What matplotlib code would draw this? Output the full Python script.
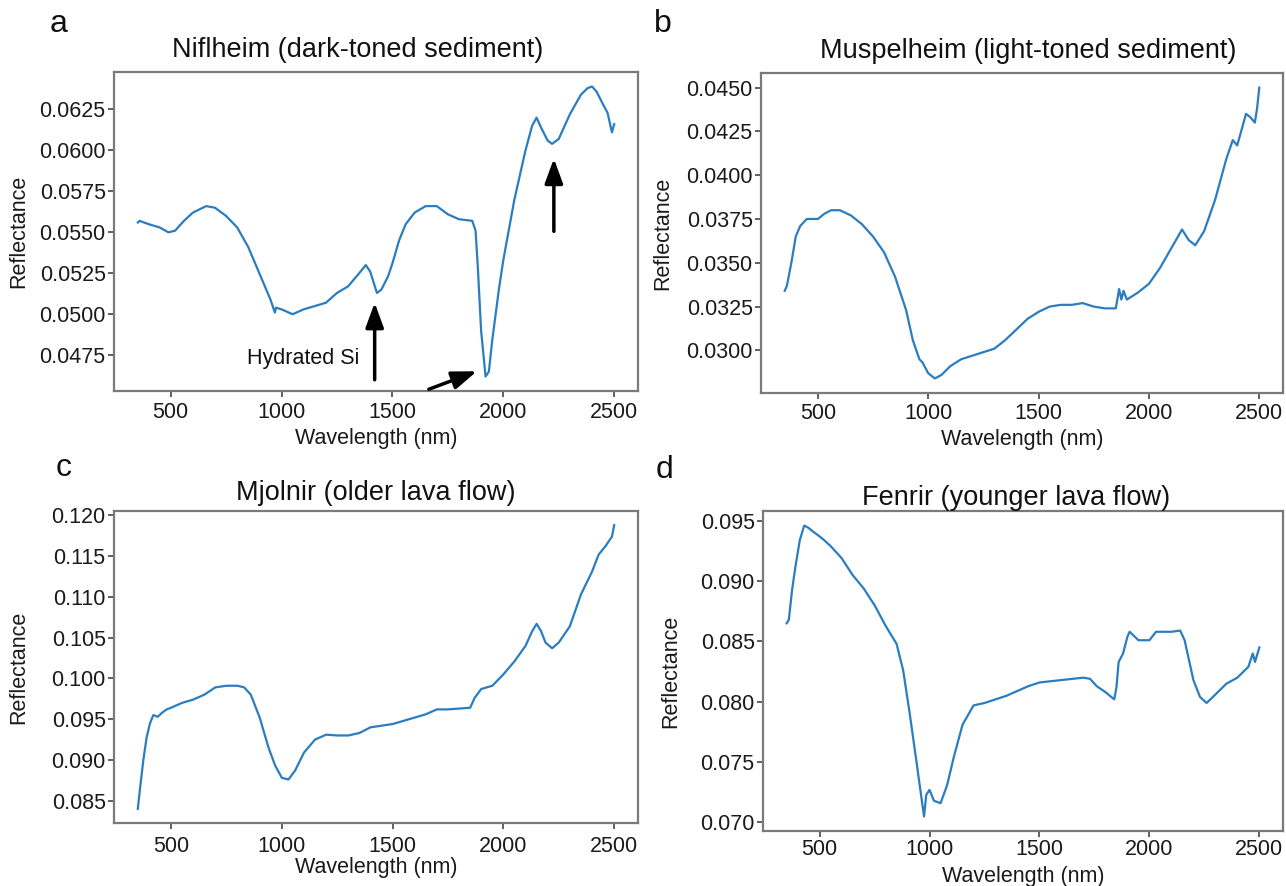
import matplotlib
matplotlib.use("Agg")
import matplotlib.pyplot as plt
from matplotlib.ticker import MultipleLocator, FormatStrFormatter

plt.rcParams['font.family'] = ['Liberation Sans', 'DejaVu Sans']

# --- spectra (wavelength nm, reflectance) ---
nif_wl = [352, 360, 400, 450, 490, 520, 560, 600, 660, 700, 750, 800, 850, 900, 950, 970, 975,
          1000, 1050, 1100, 1150, 1200, 1250, 1300, 1350, 1380, 1400, 1430, 1450, 1480, 1500,
          1530, 1560, 1600, 1650, 1700, 1750, 1800, 1860, 1875, 1885, 1900, 1920, 1935, 1950,
          1980, 2000, 2050, 2100, 2130, 2150, 2170, 2200, 2220, 2250, 2300, 2350, 2380, 2400,
          2420, 2450, 2470, 2490, 2500]
nif_r = [0.0556, 0.0557, 0.0555, 0.0553, 0.0550, 0.0551, 0.0557, 0.0562, 0.0566, 0.0565, 0.0560,
         0.0553, 0.0541, 0.0525, 0.0509, 0.0501, 0.0504, 0.0503, 0.0500, 0.0503, 0.0505, 0.0507,
         0.0513, 0.0517, 0.0525, 0.0530, 0.0526, 0.0513, 0.0515, 0.0523, 0.0531, 0.0545, 0.0555,
         0.0562, 0.0566, 0.0566, 0.0561, 0.0558, 0.0557, 0.0551, 0.0529, 0.0490, 0.0462, 0.0465,
         0.0484, 0.0515, 0.0533, 0.0570, 0.0600, 0.0615, 0.0620, 0.0614, 0.0606, 0.0604, 0.0607,
         0.0622, 0.0634, 0.0638, 0.0639, 0.0636, 0.0628, 0.0623, 0.0611, 0.0616]

mus_wl = [350, 360, 380, 400, 420, 450, 500, 530, 560, 600, 650, 700, 750, 800, 850, 900, 930,
          960, 975, 1000, 1030, 1060, 1100, 1150, 1200, 1250, 1300, 1350, 1400, 1450, 1500, 1550,
          1600, 1650, 1700, 1750, 1800, 1850, 1865, 1875, 1885, 1900, 1950, 2000, 2050, 2100,
          2150, 2180, 2210, 2250, 2300, 2350, 2380, 2400, 2420, 2440, 2460, 2480, 2490, 2500]
mus_r = [0.0334, 0.0337, 0.0350, 0.0365, 0.0371, 0.0375, 0.0375, 0.0378, 0.0380, 0.0380, 0.0377,
         0.0372, 0.0365, 0.0356, 0.0342, 0.0323, 0.0306, 0.0295, 0.0293, 0.0287, 0.0284, 0.0286,
         0.0291, 0.0295, 0.0297, 0.0299, 0.0301, 0.0306, 0.0312, 0.0318, 0.0322, 0.0325, 0.0326,
         0.0326, 0.0327, 0.0325, 0.0324, 0.0324, 0.0335, 0.0329, 0.0334, 0.0329, 0.0333, 0.0338,
         0.0347, 0.0358, 0.0369, 0.0363, 0.0360, 0.0368, 0.0386, 0.0409, 0.0420, 0.0417, 0.0426,
         0.0435, 0.0433, 0.0430, 0.0438, 0.0450]

mjo_wl = [350, 360, 375, 390, 405, 420, 440, 460, 480, 500, 550, 600, 650, 700, 750, 800, 830,
          860, 900, 940, 970, 1000, 1030, 1060, 1100, 1150, 1200, 1250, 1300, 1350, 1400, 1450,
          1500, 1550, 1600, 1650, 1700, 1750, 1800, 1850, 1870, 1900, 1950, 2000, 2050, 2100,
          2130, 2150, 2170, 2190, 2220, 2250, 2300, 2350, 2400, 2430, 2460, 2490, 2500]
mjo_r = [0.0840, 0.0865, 0.0900, 0.0928, 0.0945, 0.0955, 0.0953, 0.0958, 0.0962, 0.0964, 0.0970,
         0.0974, 0.0980, 0.0989, 0.0991, 0.0991, 0.0989, 0.0980, 0.0952, 0.0915, 0.0893, 0.0878,
         0.0876, 0.0887, 0.0909, 0.0925, 0.0931, 0.0930, 0.0930, 0.0933, 0.0940, 0.0942, 0.0944,
         0.0948, 0.0952, 0.0956, 0.0962, 0.0962, 0.0963, 0.0964, 0.0976, 0.0987, 0.0991, 0.1005,
         0.1021, 0.1040, 0.1058, 0.1067, 0.1058, 0.1044, 0.1037, 0.1044, 0.1064, 0.1103, 0.1131,
         0.1152, 0.1162, 0.1174, 0.1188]

fen_wl = [350, 360, 375, 390, 410, 430, 450, 470, 500, 520, 550, 600, 650, 700, 750, 800, 850,
          880, 910, 940, 965, 975, 985, 1000, 1020, 1050, 1080, 1110, 1150, 1200, 1250, 1300,
          1350, 1400, 1450, 1500, 1550, 1600, 1650, 1700, 1730, 1760, 1800, 1840, 1850, 1860,
          1880, 1900, 1910, 1950, 2000, 2030, 2070, 2100, 2140, 2160, 2200, 2230, 2260, 2300,
          2350, 2400, 2450, 2470, 2480, 2500]
fen_r = [0.0865, 0.0868, 0.0893, 0.0912, 0.0934, 0.0946, 0.0944, 0.0941, 0.0937, 0.0934, 0.0929,
         0.0919, 0.0905, 0.0894, 0.0880, 0.0863, 0.0848, 0.0826, 0.0790, 0.0751, 0.0718, 0.0705,
         0.0723, 0.0727, 0.0718, 0.0716, 0.0731, 0.0754, 0.0781, 0.0797, 0.0799, 0.0802, 0.0805,
         0.0809, 0.0813, 0.0816, 0.0817, 0.0818, 0.0819, 0.0820, 0.0819, 0.0813, 0.0808, 0.0802,
         0.0812, 0.0833, 0.0840, 0.0854, 0.0858, 0.0851, 0.0851, 0.0858, 0.0858, 0.0858, 0.0859,
         0.0851, 0.0818, 0.0804, 0.0799, 0.0806, 0.0815, 0.0820, 0.0829, 0.0840, 0.0833, 0.0845]

titles = ["Niflheim (dark-toned sediment)", "Muspelheim (light-toned sediment)",
          "Mjolnir (older lava flow)", "Fenrir (younger lava flow)"]
letters = ["a", "b", "c", "d"]
ysteps = [0.0025, 0.0025, 0.005, 0.005]
yfmts = ['%.4f', '%.4f', '%.3f', '%.3f']

W, H = 1286, 886
# layout in pixels, measured on the reference
boxes = [(114, 72, 638, 391), (761, 73, 1283, 393), (114, 511, 638, 823), (763, 511, 1283, 831)]
letter_pos = [(50, 24), (654, 24), (56, 468), (656, 470)]
title_x = [0.4656, 0.5115, 0.5, 0.4865]
title_pad = [11, 11, 8, 4]
xtick_pad = [4.2, 3.4, 5.0, 2]
xlab_pad = [3.2, 3.2, 0.5, 3.9]
ylab_x = [-0.162, -0.169, -0.162, -0.158]

line_col = '#2a7dc0'
frame_col = '#7a7a7a'

fig = plt.figure(figsize=(W / 100, H / 100), dpi=100)

data = [(nif_wl, nif_r), (mus_wl, mus_r), (mjo_wl, mjo_r), (fen_wl, fen_r)]
axes = []
for i, (wl, r) in enumerate(data):
    l, t, rr, b = boxes[i]
    ax = fig.add_axes([l / W, 1 - b / H, (rr - l) / W, (b - t) / H])
    ax.plot(wl, r, color=line_col, lw=1.6)
    ax.xaxis.set_major_locator(MultipleLocator(500))
    ax.yaxis.set_major_locator(MultipleLocator(ysteps[i]))
    ax.yaxis.set_major_formatter(FormatStrFormatter(yfmts[i]))
    ax.tick_params(labelsize=15.5, length=4, width=1.2, color='#444444', labelcolor='#1a1a1a', pad=2)
    ax.tick_params(axis='x', pad=xtick_pad[i])
    for s in ax.spines.values():
        s.set_color(frame_col)
        s.set_linewidth(1.6)
    ax.set_xlabel("Wavelength (nm)", fontsize=15.5, labelpad=xlab_pad[i], color='#1a1a1a')
    ax.set_ylabel("Reflectance", fontsize=15.5, color='#1a1a1a')
    ax.yaxis.set_label_coords(ylab_x[i], 0.5)
    ax.set_title(titles[i], fontsize=19.5, pad=title_pad[i], x=title_x[i], color='#111111')
    fig.text(letter_pos[i][0] / W, 1 - letter_pos[i][1] / H, letters[i], fontsize=23,
             ha='left', va='center', color='#111111')
    axes.append(ax)

# arrows in panel a
ax = axes[0]
arw = dict(arrowstyle='-|>,head_length=1.5,head_width=0.55', color='black', lw=2.5,
           shrinkA=0, shrinkB=0)
ax.annotate("", xy=(1420, 0.0507), xytext=(1420, 0.0460), arrowprops=arw)
ax.annotate("", xy=(1881, 0.04652), xytext=(1664, 0.04542), arrowprops=arw, annotation_clip=False)
ax.annotate("", xy=(2228, 0.0595), xytext=(2228, 0.05506), arrowprops=arw)
ax.text(1353, 0.0473, "Hydrated Si", fontsize=15.5, ha='right', va='center', color='#111111')

fig.savefig("out.png", dpi=100)
